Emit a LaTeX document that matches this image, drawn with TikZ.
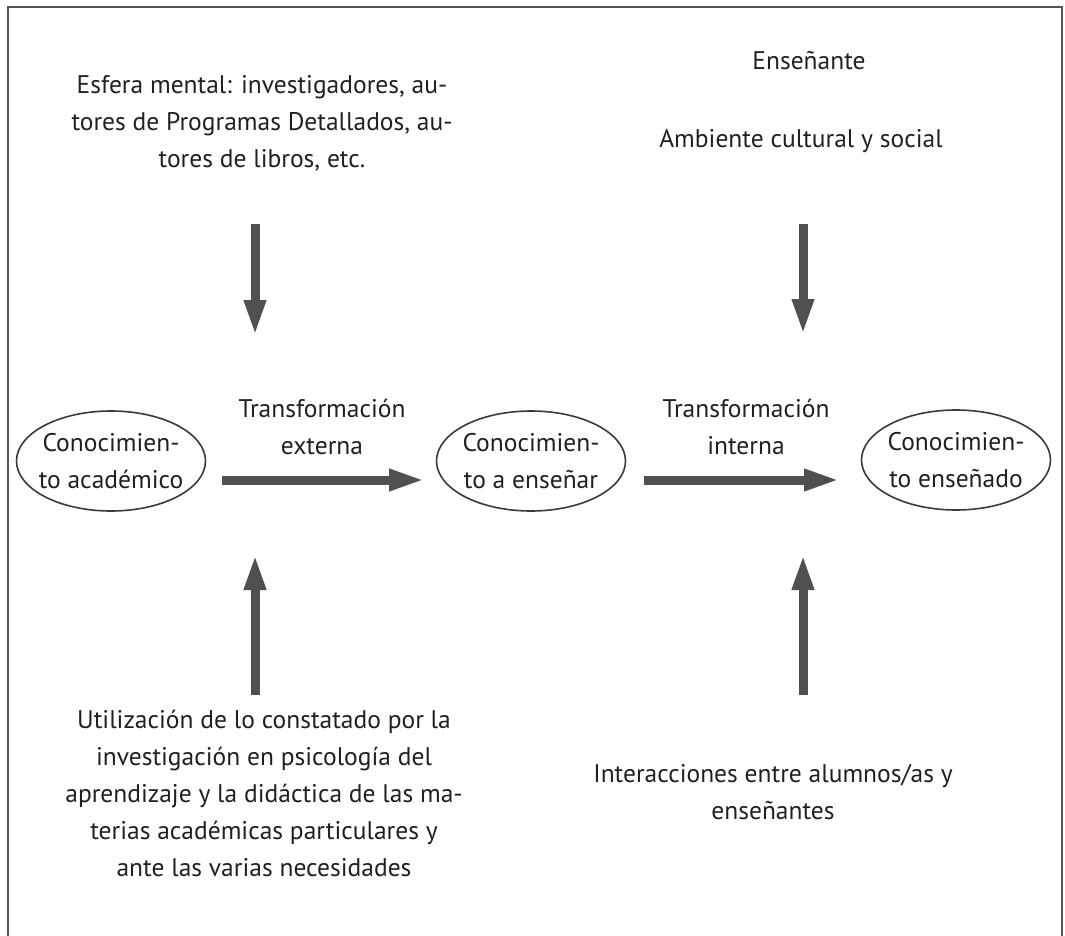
\documentclass[tikz,border=0pt]{standalone}
\usepackage{fontspec}
\setmainfont{PT Sans}
\usetikzlibrary{arrows.meta,shapes.geometric}
\definecolor{arr}{HTML}{505050}
\definecolor{frm}{HTML}{555555}
\definecolor{txt}{HTML}{231F20}
\definecolor{ellc}{HTML}{3A3A3A}
\begin{document}
\begin{tikzpicture}[x=1pt,y=-1pt,
  every node/.style={font=\fontsize{25.5}{37}\selectfont, text=txt, inner sep=0pt},
  lbl/.style={align=center},
  ell/.style={ellipse, draw=ellc, line width=1.6pt, inner xsep=-10pt, inner ysep=0pt,
              minimum width=189pt, minimum height=100pt, align=center},
  bigarrow/.style={draw=arr, line width=9pt, -{Triangle[width=20pt,length=36pt]}}
]
\useasboundingbox (0,0) rectangle (1065,936);
\draw[frm, line width=2.2pt] (8,945) -- (8,7) -- (1062,7) -- (1062,945);

% ellipses
\node[ell] (ea) at (111,461) {Conocimien-\\to académico};
\node[ell] (ee) at (531,461) {Conocimien-\\to a enseñar};
\node[ell] (en) at (956,460) {Conocimien-\\to enseñado};

% labels
\node[lbl] (ext) at (322,427) {Transformación\\externa};
\node[lbl] (int) at (746,427) {Transformación\\interna};

% top texts
\node[lbl] (tl) at (262,123) {Esfera mental: investigadores, au-\\tores de Programas Detallados, au-\\tores de libros, etc.};
\node[anchor=base] (tr1) at (809,70) {Enseñante};
\node[anchor=base] (tr2) at (801,148) {Ambiente cultural y social};

% bottom texts
\node[lbl] (bl) at (264,793) {Utilización de lo constatado por la\\investigación en psicología del\\aprendizaje y la didáctica de las ma-\\terias académicas particulares y\\ante las varias necesidades};
\node[lbl] (br) at (773,792) {Interacciones entre alumnos/as y\\enseñantes};

% arrow end points
\coordinate (d1s) at (255,224); \coordinate (d1e) at (255,336);
\coordinate (d2s) at (803,224); \coordinate (d2e) at (803,335);
\coordinate (u1s) at (255,695); \coordinate (u1e) at (255,554);
\coordinate (u2s) at (803,695); \coordinate (u2e) at (803,554);
\coordinate (h1s) at (222,480); \coordinate (h1e) at (425,480);
\coordinate (h2s) at (644,480); \coordinate (h2e) at (840,480);

\draw[bigarrow] (d1s) -- (d1e);
\draw[bigarrow] (d2s) -- (d2e);
\draw[bigarrow] (u1s) -- (u1e);
\draw[bigarrow] (u2s) -- (u2e);
\draw[bigarrow] (h1s) -- (h1e);
\draw[bigarrow] (h2s) -- (h2e);
\end{tikzpicture}
\end{document}
